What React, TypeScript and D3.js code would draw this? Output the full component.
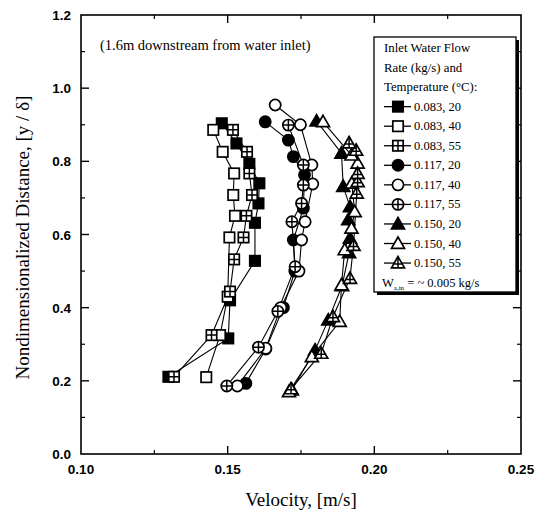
import React from "react";
import * as d3 from "d3";

type Pt = [number, number];

const xTicks = [0.1, 0.15, 0.2, 0.25];
const xTickLabels = ["0.10", "0.15", "0.20", "0.25"];
const yTicks = [0, 0.2, 0.4, 0.6, 0.8, 1.0, 1.2];
const yTickLabels = ["0.0", "0.2", "0.4", "0.6", "0.8", "1.0", "1.2"];

const seriesNames = [
  "0.083, 20", "0.083, 40", "0.083, 55",
  "0.117, 20", "0.117, 40", "0.117, 55",
  "0.150, 20", "0.150, 40", "0.150, 55",
];
const seriesShapes = ["square", "square", "square", "circle", "circle", "circle", "triangle", "triangle", "triangle"];
const seriesFills = ["filled", "open", "cross", "filled", "open", "cross", "filled", "open", "cross"];

const s083_20: Pt[] = [[0.1298, 0.211], [0.1502, 0.316], [0.1508, 0.42], [0.1593, 0.528], [0.1593, 0.632], [0.1605, 0.685], [0.1608, 0.74], [0.1574, 0.793], [0.153, 0.849], [0.148, 0.904]];
const s083_40: Pt[] = [[0.1427, 0.21], [0.1474, 0.325], [0.15, 0.43], [0.1506, 0.592], [0.1525, 0.651], [0.1519, 0.708], [0.1522, 0.767], [0.1483, 0.826], [0.1451, 0.886]];
const s083_55: Pt[] = [[0.1317, 0.211], [0.1445, 0.325], [0.1508, 0.444], [0.1522, 0.532], [0.1554, 0.592], [0.1564, 0.651], [0.1583, 0.708], [0.1574, 0.767], [0.1566, 0.826], [0.1518, 0.886]];
const s117_20: Pt[] = [[0.1562, 0.193], [0.163, 0.287], [0.169, 0.4], [0.1729, 0.5], [0.1724, 0.585], [0.1758, 0.672], [0.1762, 0.763], [0.1724, 0.813], [0.1707, 0.858], [0.1628, 0.908]];
const s117_40: Pt[] = [[0.1533, 0.186], [0.163, 0.289], [0.1681, 0.4], [0.1743, 0.5], [0.1752, 0.585], [0.1764, 0.635], [0.179, 0.738], [0.1787, 0.79], [0.1748, 0.9], [0.1662, 0.954]];
const s117_55: Pt[] = [[0.1497, 0.186], [0.1605, 0.292], [0.1671, 0.39], [0.173, 0.512], [0.1719, 0.635], [0.1752, 0.685], [0.1758, 0.735], [0.1758, 0.79], [0.1707, 0.899]];
const s150_20: Pt[] = [[0.1719, 0.175], [0.1798, 0.284], [0.1843, 0.366], [0.189, 0.46], [0.1914, 0.55], [0.1917, 0.59], [0.1911, 0.64], [0.1917, 0.676], [0.1894, 0.731], [0.1888, 0.822], [0.1803, 0.91]];
const s150_40: Pt[] = [[0.1709, 0.17], [0.1787, 0.266], [0.1882, 0.362], [0.1888, 0.462], [0.1899, 0.558], [0.1922, 0.617], [0.1933, 0.662], [0.1923, 0.74], [0.1943, 0.795], [0.1922, 0.817], [0.1825, 0.908]];
const s150_55: Pt[] = [[0.1716, 0.178], [0.1819, 0.275], [0.1859, 0.375], [0.1917, 0.48], [0.1929, 0.57], [0.194, 0.713], [0.1943, 0.744], [0.1943, 0.767], [0.1938, 0.83], [0.1914, 0.85]];

const allSeries = [s083_20, s083_40, s083_55, s117_20, s117_40, s117_55, s150_20, s150_40, s150_55];

const L = 81, R = 521, T = 15, B = 454;
const x = d3.scaleLinear().domain([0.1, 0.25]).range([L, R]);
const y = d3.scaleLinear().domain([0, 1.2]).range([B, T]);

function Marker({ cx, cy, shape, fill }: { cx: number; cy: number; shape: string; fill: string }) {
  const f = fill === "filled" ? "#000" : "#fff";
  const sw = 1.7;
  if (shape === "square") {
    const h = 5.2;
    return (
      <g>
        <rect x={cx - h} y={cy - h} width={2 * h} height={2 * h} fill={f} stroke="#000" strokeWidth={sw} />
        {fill === "cross" && (
          <path d={`M${cx - h},${cy}H${cx + h}M${cx},${cy - h}V${cy + h}`} stroke="#000" strokeWidth={1.5} />
        )}
      </g>
    );
  }
  if (shape === "circle") {
    const r = 5.6;
    return (
      <g>
        <circle cx={cx} cy={cy} r={r} fill={f} stroke="#000" strokeWidth={sw} />
        {fill === "cross" && (
          <path d={`M${cx - r},${cy}H${cx + r}M${cx},${cy - r}V${cy + r}`} stroke="#000" strokeWidth={1.5} />
        )}
      </g>
    );
  }
  const s = 6.5;
  const d = `M${cx},${cy - s}L${cx + s},${cy + s * 0.75}L${cx - s},${cy + s * 0.75}Z`;
  return (
    <g>
      <path d={d} fill={f} stroke="#000" strokeWidth={sw} strokeLinejoin="miter" />
      {fill === "cross" && (
        <path d={`M${cx - s * 0.6},${cy + s * 0.15}H${cx + s * 0.6}M${cx},${cy - s}V${cy + s * 0.75}`} stroke="#000" strokeWidth={1.5} />
      )}
    </g>
  );
}

export default function App() {
  const line = d3.line<Pt>().x((d) => x(d[0])).y((d) => y(d[1]));
  const xMinor = [0.125, 0.175, 0.225];
  const yMinor = d3.range(0.1, 1.2, 0.2);
  const serif = "'Liberation Serif', 'DejaVu Serif', serif";
  const sans = "'Liberation Sans', Arial, sans-serif";

  const lgX = 374, lgY = 37, lgW = 142, lgH = 255;
  const rowY = (i: number) => lgY + 11 + i * 19.55;

  return (
    <svg width={545} height={514} style={{ position: "absolute", left: 0, top: 0, background: "#fff" }}>
      <rect width={545} height={514} fill="#fff" />
      {allSeries.map((s, i) => (
        <path key={"l" + i} d={line(s) || ""} fill="none" stroke="#000" strokeWidth={1.1} />
      ))}
      {allSeries.map((s, i) =>
        s.map((p, j) => (
          <Marker key={`m${i}-${j}`} cx={x(p[0])} cy={y(p[1])} shape={seriesShapes[i]} fill={seriesFills[i]} />
        ))
      )}
      <rect x={L} y={T} width={R - L} height={B - T} fill="none" stroke="#000" strokeWidth={1.6} />
      {xTicks.slice(1, -1).map((t) => (
        <g key={"xt" + t}>
          <line x1={x(t)} x2={x(t)} y1={B} y2={B - 8} stroke="#000" strokeWidth={1.4} />
          <line x1={x(t)} x2={x(t)} y1={T} y2={T + 8} stroke="#000" strokeWidth={1.4} />
        </g>
      ))}
      {xMinor.map((t) => (
        <g key={"xm" + t}>
          <line x1={x(t)} x2={x(t)} y1={B} y2={B - 4} stroke="#000" strokeWidth={1.2} />
          <line x1={x(t)} x2={x(t)} y1={T} y2={T + 4} stroke="#000" strokeWidth={1.2} />
        </g>
      ))}
      {yTicks.slice(1, -1).map((t) => (
        <g key={"yt" + t}>
          <line x1={L} x2={L + 8} y1={y(t)} y2={y(t)} stroke="#000" strokeWidth={1.4} />
          <line x1={R} x2={R - 8} y1={y(t)} y2={y(t)} stroke="#000" strokeWidth={1.4} />
        </g>
      ))}
      {yMinor.map((t) => (
        <g key={"ym" + t}>
          <line x1={L} x2={L + 4} y1={y(t)} y2={y(t)} stroke="#000" strokeWidth={1.2} />
          <line x1={R} x2={R - 4} y1={y(t)} y2={y(t)} stroke="#000" strokeWidth={1.2} />
        </g>
      ))}
      {xTicks.map((t, i) => (
        <text key={"xl" + t} x={x(t)} y={B + 20} textAnchor="middle" fontFamily={sans} fontWeight="bold" fontSize={13.5}>
          {xTickLabels[i]}
        </text>
      ))}
      {yTicks.map((t, i) => (
        <text key={"yl" + t} x={L - 10} y={y(t) + 5} textAnchor="end" fontFamily={sans} fontWeight="bold" fontSize={13.5}>
          {yTickLabels[i]}
        </text>
      ))}
      <text x={(L + R) / 2} y={506} textAnchor="middle" fontFamily={serif} fontSize={19}>
        Velocity, [m/s]
      </text>
      <text transform={`translate(29,${(T + B) / 2 + 3}) rotate(-90)`} textAnchor="middle" fontFamily={serif} fontSize={19}>
        Nondimensionalized Distance, [y / δ]
      </text>
      <text x={100} y={50} fontFamily={serif} fontSize={14.5}>
        (1.6m downstream from water inlet)
      </text>
      <rect x={lgX + 3} y={lgY + 3} width={lgW} height={lgH} fill="#000" />
      <rect x={lgX} y={lgY} width={lgW} height={lgH} fill="#fff" stroke="#000" strokeWidth={1.3} />
      <text x={lgX + 10} y={rowY(0) + 4} fontFamily={serif} fontSize={12.8}>Inlet Water Flow</text>
      <text x={lgX + 10} y={rowY(1) + 4} fontFamily={serif} fontSize={12.8}>Rate (kg/s) and</text>
      <text x={lgX + 10} y={rowY(2) + 4} fontFamily={serif} fontSize={12.8}>Temperature (°C):</text>
      {seriesNames.map((n, i) => {
        const cy = rowY(3 + i);
        const cx = lgX + 24;
        return (
          <g key={"lg" + i}>
            <line x1={lgX + 10} x2={lgX + 37} y1={cy} y2={cy} stroke="#000" strokeWidth={1.3} />
            <Marker cx={cx} cy={cy} shape={seriesShapes[i]} fill={seriesFills[i]} />
            <text x={lgX + 40} y={cy + 4} fontFamily={serif} fontSize={12.5}>{n}</text>
          </g>
        );
      })}
      <text x={lgX + 8} y={rowY(12) + 4} fontFamily={serif} fontSize={12.5}>
        W<tspan fontSize={7} dy={3}>a,in</tspan><tspan dy={-3}> = ~ 0.005 kg/s</tspan>
      </text>
    </svg>
  );
}
